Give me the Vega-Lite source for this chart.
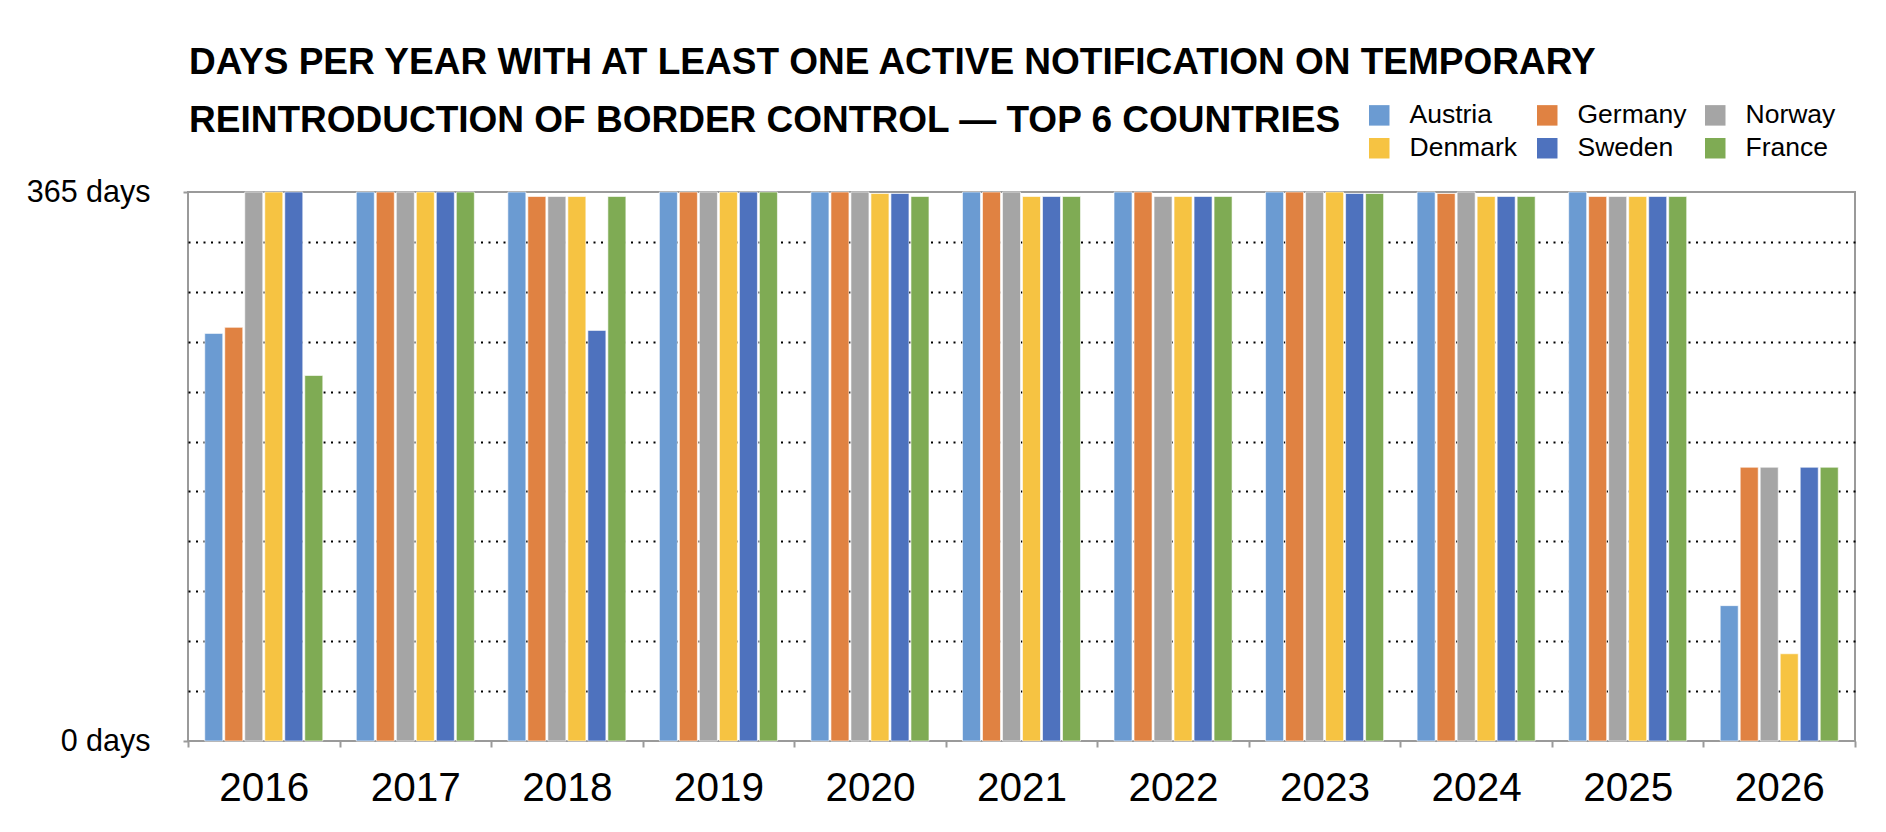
{
  "$schema": "https://vega.github.io/schema/vega-lite/v6.json",
  "width": 1667,
  "height": 549,
  "autosize": "none",
  "padding": {"left": 188, "top": 192, "right": 31, "bottom": 91},
  "background": "white",
  "title": {
    "text": [
      "DAYS PER YEAR WITH AT LEAST ONE ACTIVE NOTIFICATION ON TEMPORARY",
      "REINTRODUCTION OF BORDER CONTROL — TOP 6 COUNTRIES"
    ],
    "anchor": "start",
    "frame": "group",
    "font": "Liberation Sans",
    "fontSize": 37,
    "fontWeight": "bold",
    "color": "black",
    "lineHeight": 58,
    "offset": -38,
    "dx": 1
  },
  "data": {
    "values": [
      {"year": "2016", "country": "Austria", "days": 271},
      {"year": "2016", "country": "Germany", "days": 275},
      {"year": "2016", "country": "Norway", "days": 365},
      {"year": "2016", "country": "Denmark", "days": 365},
      {"year": "2016", "country": "Sweden", "days": 365},
      {"year": "2016", "country": "France", "days": 243},
      {"year": "2017", "country": "Austria", "days": 365},
      {"year": "2017", "country": "Germany", "days": 365},
      {"year": "2017", "country": "Norway", "days": 365},
      {"year": "2017", "country": "Denmark", "days": 365},
      {"year": "2017", "country": "Sweden", "days": 365},
      {"year": "2017", "country": "France", "days": 365},
      {"year": "2018", "country": "Austria", "days": 365},
      {"year": "2018", "country": "Germany", "days": 362},
      {"year": "2018", "country": "Norway", "days": 362},
      {"year": "2018", "country": "Denmark", "days": 362},
      {"year": "2018", "country": "Sweden", "days": 273},
      {"year": "2018", "country": "France", "days": 362},
      {"year": "2019", "country": "Austria", "days": 365},
      {"year": "2019", "country": "Germany", "days": 365},
      {"year": "2019", "country": "Norway", "days": 365},
      {"year": "2019", "country": "Denmark", "days": 365},
      {"year": "2019", "country": "Sweden", "days": 365},
      {"year": "2019", "country": "France", "days": 365},
      {"year": "2020", "country": "Austria", "days": 365},
      {"year": "2020", "country": "Germany", "days": 365},
      {"year": "2020", "country": "Norway", "days": 365},
      {"year": "2020", "country": "Denmark", "days": 364},
      {"year": "2020", "country": "Sweden", "days": 364},
      {"year": "2020", "country": "France", "days": 362},
      {"year": "2021", "country": "Austria", "days": 365},
      {"year": "2021", "country": "Germany", "days": 365},
      {"year": "2021", "country": "Norway", "days": 365},
      {"year": "2021", "country": "Denmark", "days": 362},
      {"year": "2021", "country": "Sweden", "days": 362},
      {"year": "2021", "country": "France", "days": 362},
      {"year": "2022", "country": "Austria", "days": 365},
      {"year": "2022", "country": "Germany", "days": 365},
      {"year": "2022", "country": "Norway", "days": 362},
      {"year": "2022", "country": "Denmark", "days": 362},
      {"year": "2022", "country": "Sweden", "days": 362},
      {"year": "2022", "country": "France", "days": 362},
      {"year": "2023", "country": "Austria", "days": 365},
      {"year": "2023", "country": "Germany", "days": 365},
      {"year": "2023", "country": "Norway", "days": 365},
      {"year": "2023", "country": "Denmark", "days": 365},
      {"year": "2023", "country": "Sweden", "days": 364},
      {"year": "2023", "country": "France", "days": 364},
      {"year": "2024", "country": "Austria", "days": 365},
      {"year": "2024", "country": "Germany", "days": 364},
      {"year": "2024", "country": "Norway", "days": 365},
      {"year": "2024", "country": "Denmark", "days": 362},
      {"year": "2024", "country": "Sweden", "days": 362},
      {"year": "2024", "country": "France", "days": 362},
      {"year": "2025", "country": "Austria", "days": 365},
      {"year": "2025", "country": "Germany", "days": 362},
      {"year": "2025", "country": "Norway", "days": 362},
      {"year": "2025", "country": "Denmark", "days": 362},
      {"year": "2025", "country": "Sweden", "days": 362},
      {"year": "2025", "country": "France", "days": 362},
      {"year": "2026", "country": "Austria", "days": 90},
      {"year": "2026", "country": "Germany", "days": 182},
      {"year": "2026", "country": "Norway", "days": 182},
      {"year": "2026", "country": "Denmark", "days": 58},
      {"year": "2026", "country": "Sweden", "days": 182},
      {"year": "2026", "country": "France", "days": 182}
    ]
  },
  "mark": {
    "type": "bar",
    "stroke": "white",
    "strokeWidth": 1,
    "strokeOpacity": 0.6
  },
  "encoding": {
    "x": {
      "field": "year",
      "type": "nominal",
      "scale": {"paddingInner": 0, "paddingOuter": 0},
      "axis": {
        "title": null,
        "labelAngle": 0,
        "labelFont": "Liberation Sans",
        "labelFontSize": 40.5,
        "labelColor": "black",
        "labelPadding": 21,
        "domain": false,
        "grid": false,
        "tickBand": "extent",
        "tickColor": "#9a9a9a",
        "tickWidth": 2,
        "tickSize": 6
      }
    },
    "xOffset": {
      "field": "country",
      "type": "nominal",
      "sort": ["Austria", "Germany", "Norway", "Denmark", "Sweden", "France"],
      "scale": {"paddingInner": 0.1, "paddingOuter": 0.8375}
    },
    "y": {
      "field": "days",
      "type": "quantitative",
      "scale": {"domain": [0, 365], "nice": false},
      "axis": {
        "title": null,
        "values": [0, 33.18, 66.36, 99.55, 132.73, 165.91, 199.09, 232.27, 265.45, 298.64, 331.82, 365],
        "labelExpr": "datum.value == 0 || datum.value == 365 ? datum.value + ' days' : ''",
        "labelFont": "Liberation Sans",
        "labelFontSize": 30.5,
        "labelColor": "black",
        "labelPadding": 33,
        "domain": false,
        "tickColor": "#9a9a9a",
        "tickWidth": 2,
        "tickSize": 5,
        "tickOpacity": {"condition": {"test": "datum.value == 0 || datum.value == 365", "value": 1}, "value": 0},
        "grid": true,
        "gridColor": "black",
        "gridWidth": 2,
        "gridDash": [2, 5.5],
        "gridOpacity": {"condition": {"test": "datum.value == 0 || datum.value == 365", "value": 0}, "value": 1},
        "zindex": 0
      }
    },
    "color": {
      "field": "country",
      "type": "nominal",
      "sort": ["Austria", "Germany", "Norway", "Denmark", "Sweden", "France"],
      "scale": {
        "domain": ["Austria", "Germany", "Norway", "Denmark", "Sweden", "France"],
        "range": ["#6B9BD2", "#E08242", "#A5A5A5", "#F6C342", "#4E72BE", "#7FAB54"]
      },
      "legend": {
        "title": null,
        "orient": "none",
        "legendX": 1178,
        "legendY": -90,
        "columns": 3,
        "direction": "horizontal",
        "gridAlign": "all",
        "columnPadding": 15,
        "rowPadding": 6,
        "padding": 0,
        "symbolType": "square",
        "symbolSize": 420,
        "symbolStrokeWidth": 0,
        "labelFont": "Liberation Sans",
        "labelFontSize": 26.5,
        "labelColor": "black",
        "labelOffset": 17
      }
    }
  },
  "config": {
    "view": {"stroke": "#9a9a9a", "strokeWidth": 2}
  }
}
